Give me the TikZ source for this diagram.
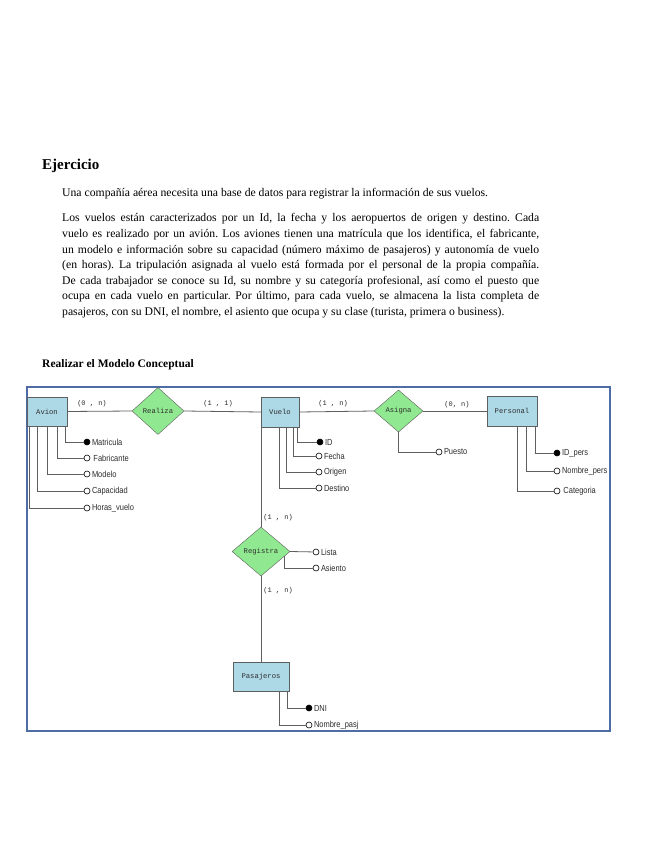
\documentclass[tikz,border=0pt]{standalone}
\usepackage{fontspec}
\setmainfont{Liberation Serif}
\newfontfamily\monof{Liberation Mono}
\newfontfamily\attrf[FakeStretch=0.85]{Liberation Sans}
\usetikzlibrary{shapes.geometric,calc}
\definecolor{entfill}{RGB}{173,216,230}
\definecolor{relfill}{RGB}{144,232,144}
\definecolor{linec}{RGB}{95,95,95}
\definecolor{framec}{RGB}{78,108,165}
\definecolor{labc}{RGB}{45,45,45}
\frenchspacing
\begin{document}
\begin{tikzpicture}[x=1pt,y=-1pt,
  entity/.style={draw=linec, fill=entfill, inner sep=0pt, font=\monof\fontsize{7.2}{8}\selectfont, text=labc},
  rel/.style={diamond, draw=linec, fill=relfill, inner sep=0pt, font=\monof\fontsize{7.2}{8}\selectfont, text=labc},
  conn/.style={draw=linec, line width=0.8pt},
  attrc/.style={circle, draw=black, fill=white, inner sep=0pt, minimum size=6pt, line width=0.6pt},
  keyc/.style={attrc, fill=black},
  attrl/.style={anchor=west, inner sep=1.5pt, font=\attrf\fontsize{8.8}{10}\selectfont, text=labc},
  card/.style={font=\monof\fontsize{7}{8}\selectfont, text=labc, inner sep=0pt},
  body/.style={font=\fontsize{11.7}{15.6}\selectfont}
]
\useasboundingbox (0,0) rectangle (655,848);
\fill[white] (0,0) rectangle (655,848);

% texts
\node[anchor=base west, inner sep=0pt, font=\bfseries\fontsize{15}{18}\selectfont] (title) at (42,169) {Ejercicio};
\node[anchor=base west, inner sep=0pt, body] (p1) at (62,196) {Una compañía aérea necesita una base de datos para registrar la información de sus vuelos.};
\node[anchor=north west, inner sep=0pt, body, text width=477pt, align=justify] (p2) at (62,213.5) {Los vuelos están caracterizados por un Id, la fecha y los aeropuertos de origen y destino. Cada\linebreak
vuelo es realizado por un avión. Los aviones tienen una matrícula que los identifica, el fabricante,\linebreak
un modelo e información sobre su capacidad (número máximo de pasajeros) y autonomía de vuelo\linebreak
(en horas). La tripulación asignada al vuelo está formada por el personal de la propia compañía.\linebreak
De cada trabajador se conoce su Id, su nombre y su categoría profesional, así como el puesto que\linebreak
ocupa en cada vuelo en particular. Por último, para cada vuelo, se almacena la lista completa de\linebreak
pasajeros, con su DNI, el nombre, el asiento que ocupa y su clase (turista, primera o business).};
\node[anchor=base west, inner sep=0pt, font=\bfseries\fontsize{11.5}{14}\selectfont] (sub) at (42,367) {Realizar el Modelo Conceptual};

% frame
\draw[framec, line width=1.6pt] (27,387) rectangle (610,731);

% entities and relationships
\node[entity, minimum width=40pt, minimum height=29pt] (avion) at (47,411.5) {Avion};
\node[entity, minimum width=38pt, minimum height=30pt] (vuelo) at (280,412) {Vuelo};
\node[entity, minimum width=50pt, minimum height=30pt] (personal) at (512,411) {Personal};
\node[entity, minimum width=56pt, minimum height=29pt] (pasajeros) at (261,676.5) {Pasajeros};
\node[rel, minimum width=52pt, minimum height=47pt] (realiza) at (158,411) {Realiza};
\node[rel, minimum width=49pt, minimum height=42pt] (asigna) at (398.5,411) {Asigna};
\node[rel, minimum width=58pt, minimum height=49pt] (registra) at (261,551.5) {Registra};

% relationship lines
\draw[conn] (avion.east) -- (realiza.west);
\draw[conn] (realiza.east) -- (vuelo.west);
\draw[conn] (vuelo.east) -- (asigna.west);
\draw[conn] (asigna.east) -- (personal.west);
\draw[conn] (registra.north) -- (registra.north |- vuelo.south);
\draw[conn] (registra.south) -- (pasajeros.north);

% cardinalities
\node[card] (c1) at (92,404) {(0 , n)};
\node[card] (c2) at (218,404) {(1 , 1)};
\node[card] (c3) at (333,404) {(1 , n)};
\node[card] (c4) at (457,405) {(0, n)};
\node[card] (c5) at (278,518) {(1 , n)};
\node[card] (c6) at (278,591) {(1 , n)};

% Avion attributes
\node[keyc] (a1) at (87,442) {};
\node[attrc] (a2) at (87,458) {};
\node[attrc] (a3) at (87,474) {};
\node[attrc] (a4) at (87,491) {};
\node[attrc] (a5) at (87,508) {};
\node[attrl] (la1) at (a1.east) {Matricula};
\node[attrl] (la2) at (a2.east) {\,Fabricante};
\node[attrl] (la3) at (a3.east) {Modelo};
\node[attrl] (la4) at (a4.east) {Capacidad};
\node[attrl] (la5) at (a5.east) {Horas\_vuelo};
\draw[conn] ([xshift=39pt]avion.south west) |- (a1);
\draw[conn] ([xshift=31pt]avion.south west) |- (a2);
\draw[conn] ([xshift=21pt]avion.south west) |- (a3);
\draw[conn] ([xshift=11pt]avion.south west) |- (a4);
\draw[conn] ([xshift=3pt]avion.south west) |- (a5);

% Vuelo attributes
\node[keyc] (v1) at (320,442) {};
\node[attrc] (v2) at (319,456) {};
\node[attrc] (v3) at (319,472) {};
\node[attrc] (v4) at (319,488) {};
\node[attrl] (lv1) at (v1.east) {ID};
\node[attrl] (lv2) at (v2.east) {Fecha};
\node[attrl] (lv3) at (v3.east) {Origen};
\node[attrl] (lv4) at (v4.east) {Destino};
\draw[conn] ([xshift=37pt]vuelo.south west) |- (v1);
\draw[conn] ([xshift=33pt]vuelo.south west) |- (v2);
\draw[conn] ([xshift=26pt]vuelo.south west) |- (v3);
\draw[conn] ([xshift=19pt]vuelo.south west) |- (v4);

% Asigna attribute
\node[attrc] (s1) at (439,452) {};
\node[attrl] (ls1) at (s1.east) {Puesto};
\draw[conn] (asigna.south) |- (s1);

% Personal attributes
\node[keyc] (e1) at (557,453) {};
\node[attrc] (e2) at (557,471) {};
\node[attrc] (e3) at (557,491) {};
\node[attrl] (le1) at (e1.east) {ID\_pers};
\node[attrl] (le2) at (e2.east) {Nombre\_pers};
\node[attrl] (le3) at (e3.east) {\,Categoria};
\draw[conn] ([xshift=49pt]personal.south west) |- (e1);
\draw[conn] ([xshift=40pt]personal.south west) |- (e2);
\draw[conn] ([xshift=31pt]personal.south west) |- (e3);

% Registra attributes
\node[attrc] (r1) at (316,552) {};
\node[attrc] (r2) at (316,568) {};
\node[attrl] (lr1) at (r1.east) {Lista};
\node[attrl] (lr2) at (r2.east) {Asiento};
\coordinate (rq) at ($(registra.east)!0.2!(registra.south)$);
\draw[conn] (registra.east) -- (r1);
\draw[conn] (rq) |- (r2);

% Pasajeros attributes
\node[keyc] (p1c) at (309,708) {};
\node[attrc] (p2c) at (309,725) {};
\node[attrl] (lp1) at (p1c.east) {DNI};
\node[attrl] (lp2) at (p2c.east) {Nombre\_pasj};
\draw[conn] ([xshift=55pt]pasajeros.south west) |- (p1c);
\draw[conn] ([xshift=47pt]pasajeros.south west) |- (p2c);
\end{tikzpicture}
\end{document}
